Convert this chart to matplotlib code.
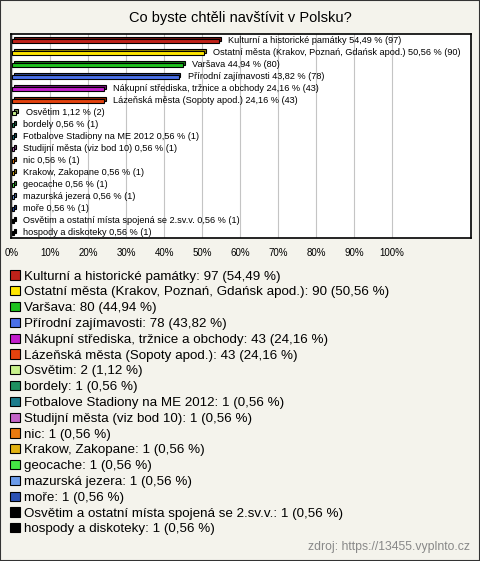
import matplotlib
matplotlib.use('Agg')
import matplotlib.pyplot as plt
from matplotlib.patches import Patch, Rectangle

plt.rcParams['font.family'] = ['Liberation Sans', 'DejaVu Sans']

categories = ['Kulturní a historické památky',
              'Ostatní města (Krakov, Poznań, Gdańsk apod.)',
              'Varšava',
              'Přírodní zajímavosti',
              'Nákupní střediska, tržnice a obchody',
              'Lázeňská města (Sopoty apod.)',
              'Osvětim',
              'bordely',
              'Fotbalove Stadiony na ME 2012',
              'Studijní města (viz bod 10)',
              'nic',
              'Krakow, Zakopane',
              'geocache',
              'mazurská jezera',
              'moře',
              'Osvětim a ostatní místa spojená se 2.sv.v.',
              'hospody a diskoteky']
counts = [97, 90, 80, 78, 43, 43, 2, 1, 1, 1, 1, 1, 1, 1, 1, 1, 1]
percents = [54.49, 50.56, 44.94, 43.82, 24.16, 24.16, 1.12, 0.56, 0.56, 0.56,
            0.56, 0.56, 0.56, 0.56, 0.56, 0.56, 0.56]
colors = ['#c0221a', '#ffe600', '#1ec21e', '#4a70e8', '#c21ecc', '#e4420e',
          '#c8f28c', '#1e9060', '#1c7c8c', '#c464c8', '#ea7a10', '#e2b212',
          '#44e444', '#6c9cea', '#2c52b4', '#000000', '#000000']
xticks = [0, 10, 20, 30, 40, 50, 60, 70, 80, 90, 100]


def darker(c, f=0.6):
    r, g, b = matplotlib.colors.to_rgb(c)
    return (r * f, g * f, b * f)


def fmt(p):
    return ('%.2f' % p).replace('.', ',')


bg = '#f4f3ec'
fig = plt.figure(figsize=[4.8, 5.61], dpi=100, facecolor=bg)
fig.patches.append(Rectangle((0, 0), 1, 1, transform=fig.transFigure,
                             fill=False, edgecolor='#333333', linewidth=1.5))

fig.text(0.5, 1 - 18 / 561, 'Co byste chtěli navštívit v Polsku?',
         ha='center', va='center', fontsize=10.5)

ax = fig.add_axes([11 / 480, 1 - 238 / 561, 460 / 480, 204 / 561])
ax.set_facecolor('white')
ys = list(range(len(categories)))
h = 0.4
# depth face of the 3d bars
back = [darker(c) if c != '#000000' else '#000000' for c in colors]
ax.barh([y - 0.16 for y in ys], percents, left=0.5, height=h, color=back,
        edgecolor='black', linewidth=0.8, zorder=3)
ax.barh(ys, percents, height=h, color=colors, edgecolor='black',
        linewidth=0.8, zorder=4)
for y, name, p, n in zip(ys, categories, percents, counts):
    ax.text(p + 2.4, y, '%s %s %% (%d)' % (name, fmt(p), n),
            va='center', ha='left', fontsize=6.6, zorder=5)

ax.set_xlim(-0.3, 120.8)
ax.set_ylim(16.42, -0.58)
ax.set_xticks(xticks)
ax.set_xticklabels(['%d%%' % t for t in xticks], fontsize=7)
ax.tick_params(axis='x', length=0, pad=7)
ax.set_yticks([])
ax.grid(axis='x', color='#c4c4c4', linewidth=0.8, zorder=0)
for s in ax.spines.values():
    s.set_linewidth(1.2)

handles = [Patch(facecolor=c, edgecolor='black', linewidth=0.8) for c in colors]
labels = ['%s: %d (%s %%)' % (name, n, fmt(p))
          for name, n, p in zip(categories, counts, percents)]
fig.legend(handles, labels, loc='upper left',
           bbox_to_anchor=(5 / 480, 1 - 265 / 561), frameon=False,
           fontsize=9.6, handlelength=0.7, handleheight=0.7,
           handletextpad=0.3, labelspacing=0.26, borderaxespad=0)

fig.text(1 - 10 / 480, 1 - 547 / 561, 'zdroj: https://13455.vyplnto.cz',
         ha='right', va='center', fontsize=8.8, color='#888888')

fig.savefig('out.png', dpi=100, facecolor=bg)
